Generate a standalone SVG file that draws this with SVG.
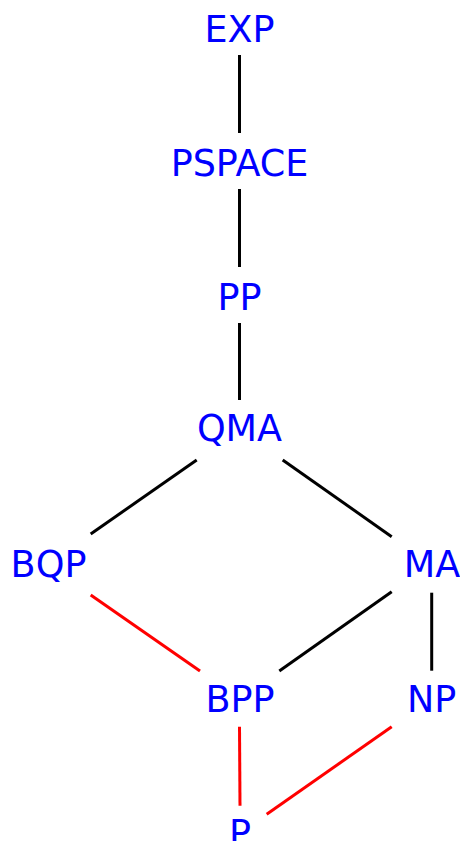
<svg xmlns="http://www.w3.org/2000/svg" width="460" height="841" viewBox="0 0 460 841">
<style>
text{font-family:"DejaVu Sans",sans-serif;font-size:36.5px;fill:#0000FF;text-anchor:middle}
.e{stroke:#000;stroke-width:3;fill:none}
.r{stroke:#FF0000;stroke-width:3;fill:none}
</style>
<rect width="460" height="841" fill="#fff"/>
<g id="edges">
<line class="e" x1="239.5" y1="55" x2="239.5" y2="133"/>
<line class="e" x1="239.5" y1="189" x2="239.5" y2="267"/>
<line class="e" x1="239.5" y1="323" x2="239.5" y2="400"/>
<line class="e" x1="196.7" y1="460" x2="90.7" y2="534"/>
<line class="e" x1="282.7" y1="460" x2="391.7" y2="536.7"/>
<line class="r" x1="90.7" y1="595" x2="200" y2="671"/>
<line class="e" x1="391.7" y1="591.7" x2="279.3" y2="671"/>
<line class="e" x1="431.7" y1="592.7" x2="431.7" y2="670.7"/>
<line class="r" x1="239.5" y1="726.7" x2="240" y2="805.7"/>
<line class="r" x1="391.7" y1="726.7" x2="266.7" y2="814.3"/>
</g>
<g id="EXP"><text x="239.5" y="41.5">EXP</text></g>
<g id="PSPACE"><text x="239.5" y="175.5">PSPACE</text></g>
<g id="PP"><text x="239.5" y="309.5">PP</text></g>
<g id="QMA"><text x="239.5" y="441">QMA</text></g>
<g id="BQP"><text x="48.5" y="576.5">BQP</text></g>
<g id="MA"><text x="432" y="577">MA</text></g>
<g id="BPP"><text x="240" y="711.5">BPP</text></g>
<g id="NP"><text x="431.7" y="711.5">NP</text></g>
<g id="P"><text x="240" y="846">P</text></g>
</svg>
